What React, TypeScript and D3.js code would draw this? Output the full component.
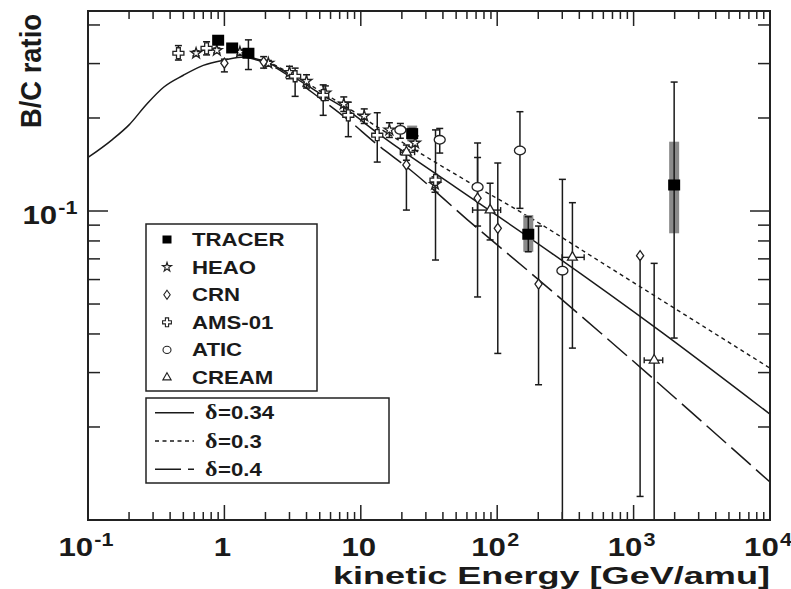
import * as d3 from 'd3';

const W = 791;
const H = 589;
const FONT = '"Liberation Sans", Arial, Helvetica, sans-serif';
const SERIF = '"Liberation Serif", "DejaVu Serif", serif';
const INK = '#1a1a1a';
const SX = 1.2; // the figure's text is a little wider than it is tall

// axis labels
const xTickVals = [0.1, 1, 10, 100, 1000, 10000];
const xTickBase = ['10', '1', '10', '10', '10', '10'];
const xTickSup = ['-1', '', '', '2', '3', '4'];

// model curves (kinetic energy in GeV/amu, B/C)
const solidE = [0.1, 0.15, 0.2, 0.27, 0.36, 0.5, 0.7, 1.0, 1.4, 2.0, 3, 5, 8, 13, 20, 50, 250, 1585, 10000];
const solidV = [0.149, 0.17, 0.19, 0.222, 0.252, 0.275, 0.296, 0.308, 0.315, 0.304, 0.277, 0.24, 0.212, 0.18, 0.157, 0.119, 0.0731, 0.0407, 0.022];
const dotE = [1.4, 2, 3, 5, 8, 13, 23, 60, 176, 574, 10000];
const dotV = [0.315, 0.305, 0.28, 0.245, 0.216, 0.188, 0.161, 0.125, 0.0949, 0.0684, 0.031];
const dashE = [1.4, 2, 3, 5, 8, 13, 23, 60, 176, 574, 10000];
const dashV = [0.315, 0.302, 0.273, 0.232, 0.198, 0.165, 0.136, 0.094, 0.063, 0.0403, 0.01327];

// measurements
const tracerE = [0.9, 1.14, 1.5, 23.8, 169, 1983];
const tracerV = [0.357, 0.337, 0.324, 0.178, 0.0841, 0.1214];
const tracerLo = [0.357, 0.337, 0.287, 0.172, 0.0738, 0.0388];
const tracerHi = [0.357, 0.337, 0.358, 0.185, 0.0958, 0.2614];
const tracerSysLo = [0, 0, 0, 0.168, 0.0738, 0.0847];
const tracerSysHi = [0, 0, 0, 0.189, 0.097, 0.1676];

const heaoE = [0.62, 0.88, 1.3, 2.1, 3.0, 4.0, 5.5, 7.5, 10.6, 16.2, 25, 35];
const heaoV = [0.324, 0.331, 0.327, 0.301, 0.281, 0.263, 0.241, 0.222, 0.203, 0.183, 0.166, 0.122];
const heaoLo = [0.318, 0.325, 0.321, 0.295, 0.268, 0.25, 0.228, 0.21, 0.192, 0.173, 0.157, 0.115];
const heaoHi = [0.33, 0.337, 0.333, 0.307, 0.294, 0.276, 0.254, 0.234, 0.214, 0.193, 0.175, 0.129];

const crnE = [1.0, 1.94, 21.6, 71.8, 101, 201, 1116];
const crnV = [0.301, 0.304, 0.141, 0.11, 0.0879, 0.058, 0.0717];
const crnLo = [0.282, 0.29, 0.1007, 0.0527, 0.0346, 0.0274, 0.01192];
const crnHi = [0.31, 0.316, 0.1576, 0.166, 0.143, 0.0894, 0.0717];

const amsE = [0.46, 0.74, 3.3, 5.3, 8.1, 13.2, 35.3];
const amsV = [0.324, 0.336, 0.273, 0.237, 0.204, 0.176, 0.126];
const amsLo = [0.308, 0.32, 0.235, 0.204, 0.174, 0.144, 0.0694];
const amsHi = [0.343, 0.353, 0.29, 0.256, 0.225, 0.208, 0.183];

const aticE = [19.5, 37.9, 71.8, 146.8, 300.6];
const aticV = [0.183, 0.17, 0.1196, 0.157, 0.0641];
const aticLo = [0.172, 0.154, 0.0894, 0.102, 0.005];
const aticHi = [0.192, 0.185, 0.149, 0.2096, 0.1266];

const creamE = [21.6, 88.7, 356, 1415];
const creamV = [0.155, 0.1007, 0.0708, 0.0329];
const creamLo = [0.146, 0.0806, 0.036, 0.005];
const creamHi = [0.1635, 0.123, 0.1064, 0.0677];
const creamELo = [19.5, 66, 299, 1196];
const creamEHi = [24.8, 106, 434, 1635];

const legendNames = ['TRACER', 'HEAO', 'CRN', 'AMS-01', 'ATIC', 'CREAM'];
const legendKinds = ['square', 'star', 'diamond', 'cross', 'circle', 'triangle'];
const modelDeltas = ['0.34', '0.3', '0.4'];
const modelDash = ['none', '4,3.5', '26,7'];

const x = d3.scaleLog().domain([0.1, 1e4]).range([88, 770]);
const y = d3.scaleLog().domain([0.01, 0.4439]).range([520, 11]);

const line = d3
  .line<[number, number]>()
  .x((d) => x(d[0]))
  .y((d) => y(d[1]))
  .curve(d3.curveMonotoneX);

const zip = (a: number[], b: number[]) => a.map((v, i) => [v, b[i]] as [number, number]);

const starPath = d3.symbol().type(d3.symbolStar).size(36)();
const starSmall = d3.symbol().type(d3.symbolStar).size(26)();
const triPath = d3.symbol().type(d3.symbolTriangle).size(42)();
const triSmall = d3.symbol().type(d3.symbolTriangle).size(30)();

function crossPath(a: number, b: number) {
  return `M${-a},${-b}H${a}V${-a}H${b}V${a}H${a}V${b}H${-a}V${a}H${-b}V${-a}H${-a}Z`;
}

function Marker({ kind, cx, cy, small }: { kind: string; cx: number; cy: number; small?: boolean }) {
  const t = `translate(${cx},${cy})`;
  const st = { fill: '#fff', stroke: '#222', strokeWidth: small ? 1.1 : 1.3 };
  if (kind === 'square') {
    const w = small ? 9 : 12;
    const h = small ? 8 : 11;
    return <rect x={cx - w / 2} y={cy - h / 2} width={w} height={h} fill="#000" />;
  }
  if (kind === 'star') return <path transform={t} d={small ? starSmall : starPath} {...st} />;
  if (kind === 'diamond') {
    const a = small ? 3.2 : 3.6;
    const b = small ? 4.5 : 5;
    return <path transform={t} d={`M0,${-b}L${a},0L0,${b}L${-a},0Z`} {...st} />;
  }
  if (kind === 'cross') return <path transform={t} d={small ? crossPath(1.6, 4.4) : crossPath(1.9, 5.5)} {...st} />;
  if (kind === 'circle') return <ellipse cx={cx} cy={cy} rx={small ? 4 : 5.5} ry={small ? 3.6 : 4.3} {...st} />;
  return <path transform={t} d={small ? triSmall : triPath} {...st} />;
}

function ErrY({ px, lo, hi }: { px: number; lo: number; hi: number }) {
  if (lo === hi) return null;
  const y0 = y(hi);
  const y1 = y(lo);
  return (
    <g stroke={INK} strokeWidth={1.5}>
      <line x1={px} x2={px} y1={y0} y2={y1} />
      <line x1={px - 3.5} x2={px + 3.5} y1={y0} y2={y0} />
      {y1 < 520 && <line x1={px - 3.5} x2={px + 3.5} y1={y1} y2={y1} />}
    </g>
  );
}

function ErrX({ py, e0, e1 }: { py: number; e0: number; e1: number }) {
  return (
    <g stroke={INK} strokeWidth={1.4}>
      <line x1={x(e0)} x2={x(e1)} y1={py} y2={py} />
      <line x1={x(e0)} x2={x(e0)} y1={py - 3} y2={py + 3} />
      <line x1={x(e1)} x2={x(e1)} y1={py - 3} y2={py + 3} />
    </g>
  );
}

const series = [
  { kind: 'star', E: heaoE, V: heaoV, lo: heaoLo, hi: heaoHi },
  { kind: 'cross', E: amsE, V: amsV, lo: amsLo, hi: amsHi },
  { kind: 'diamond', E: crnE, V: crnV, lo: crnLo, hi: crnHi },
  { kind: 'circle', E: aticE, V: aticV, lo: aticLo, hi: aticHi },
  { kind: 'triangle', E: creamE, V: creamV, lo: creamLo, hi: creamHi },
  { kind: 'square', E: tracerE, V: tracerV, lo: tracerLo, hi: tracerHi },
];

function digitsWidth(s: string, size: number) {
  let w = 0;
  for (const c of s) w += c === '-' ? 0.333 : 0.556;
  return w * size;
}

function Pow({ cx, by, base, sup, size, supSize }: { cx: number; by: number; base: string; sup: string; size: number; supSize: number }) {
  const bw = digitsWidth(base, size);
  const sw = sup ? digitsWidth(sup, supSize) + 1 : 0;
  const start = -(bw + sw) / 2;
  return (
    <g transform={`translate(${cx},${by}) scale(${SX},1)`} fontFamily={FONT} fontWeight="bold" fill={INK}>
      <text x={start} y={0} fontSize={size}>{base}</text>
      {sup && (
        <text x={start + bw + 1} y={-10} fontSize={supSize}>{sup}</text>
      )}
    </g>
  );
}

export default function App() {
  const xTicks = x.ticks();
  const yTicks = y.ticks();
  const isMajor = (t: number) => Math.abs(Math.log10(t) - Math.round(Math.log10(t))) < 1e-6;

  return (
    <div style={{ position: 'absolute', left: 0, top: 0, width: W, height: H, background: '#fff' }}>
      <svg width={W} height={H} style={{ display: 'block' }}>
        <defs>
          <clipPath id="plot">
            <rect x={88} y={11} width={682} height={509} />
          </clipPath>
        </defs>

        <g clipPath="url(#plot)" fill="none" stroke={INK} strokeWidth={1.5}>
          <path d={line(zip(solidE, solidV)) || ''} />
          <path d={line(zip(dotE, dotV)) || ''} strokeDasharray="4,3.5" strokeWidth={1.4} />
          <path d={line(zip(dashE, dashV)) || ''} strokeDasharray="26,7" />
        </g>

        <g clipPath="url(#plot)">
          {tracerE.map((e, i) =>
            tracerSysHi[i] > 0 ? (
              <rect key={'sys' + i} x={x(e) - 5} y={y(tracerSysHi[i])} width={10} height={y(tracerSysLo[i]) - y(tracerSysHi[i])} fill="#8a8a8a" />
            ) : null
          )}
          {series.map((s) =>
            s.E.map((e, i) => <ErrY key={s.kind + 'e' + i} px={x(e)} lo={s.lo[i]} hi={s.hi[i]} />)
          )}
          {creamE.map((e, i) => (
            <ErrX key={'cx' + i} py={y(creamV[i])} e0={creamELo[i]} e1={creamEHi[i]} />
          ))}
          {series.map((s) =>
            s.E.map((e, i) => <Marker key={s.kind + 'm' + i} kind={s.kind} cx={x(e)} cy={y(s.V[i])} />)
          )}
        </g>

        {/* frame and ticks */}
        <rect x={88} y={11} width={682} height={509} fill="none" stroke="#222" strokeWidth={2} />
        <g stroke="#222" strokeWidth={1.5}>
          {xTicks.map((t, i) => {
            const len = isMajor(t) ? 15 : 8;
            const px = x(t);
            return (
              <g key={'xt' + i}>
                <line x1={px} x2={px} y1={520} y2={520 - len} />
                <line x1={px} x2={px} y1={11} y2={11 + len} />
              </g>
            );
          })}
          {yTicks.map((t, i) => {
            const len = isMajor(t) ? 20 : 12;
            const py = y(t);
            return (
              <g key={'yt' + i}>
                <line x1={88} x2={88 + len} y1={py} y2={py} />
                <line x1={770} x2={770 - len} y1={py} y2={py} />
              </g>
            );
          })}
        </g>

        {/* tick labels */}
        {xTickVals.map((v, i) => (
          <Pow key={'xl' + i} cx={x(v) - 2} by={556} base={xTickBase[i]} sup={xTickSup[i]} size={26} supSize={18} />
        ))}
        <Pow cx={50} by={224} base="10" sup="-1" size={26} supSize={18} />

        {/* axis titles */}
        <text x={333} y={584} fontFamily={FONT} fontWeight="bold" fontSize={24} fill={INK} textLength={437} lengthAdjust="spacingAndGlyphs">
          kinetic Energy [GeV/amu]
        </text>
        <text transform="translate(41,71) rotate(-90)" textAnchor="middle" fontFamily={FONT} fontWeight="bold" fontSize={29} fill={INK} textLength={114} lengthAdjust="spacingAndGlyphs">
          B/C ratio
        </text>

        {/* experiment legend */}
        <rect x={146} y={224} width={171} height={167} fill="#fff" stroke="#222" strokeWidth={1.5} />
        {legendNames.map((n, i) => {
          const by = 246 + i * 27.6;
          return (
            <g key={'lg' + i}>
              <Marker kind={legendKinds[i]} cx={167} cy={by - 6.5} small />
              <text transform={`translate(192,${by}) scale(${SX},1)`} fontFamily={FONT} fontWeight="bold" fontSize={18.5} fill={INK}>
                {n}
              </text>
            </g>
          );
        })}

        {/* model legend */}
        <rect x={146} y={398} width={243} height={85} fill="#fff" stroke="#222" strokeWidth={1.5} />
        {modelDeltas.map((d, i) => {
          const ly = 412.7 + i * 28.3;
          const by = 419.3 + i * 28.2;
          return (
            <g key={'ml' + i}>
              <line x1={155} x2={194} y1={ly} y2={ly} stroke={INK} strokeWidth={1.4} strokeDasharray={modelDash[i]} />
              <text transform={`translate(205,${by}) scale(${SX},1)`} fontFamily={SERIF} fontWeight="bold" fontSize={20} fill={INK}>
                δ
              </text>
              <text transform={`translate(218,${by}) scale(${SX},1)`} fontFamily={FONT} fontWeight="bold" fontSize={18.5} fill={INK}>
                ={d}
              </text>
            </g>
          );
        })}
      </svg>
    </div>
  );
}
